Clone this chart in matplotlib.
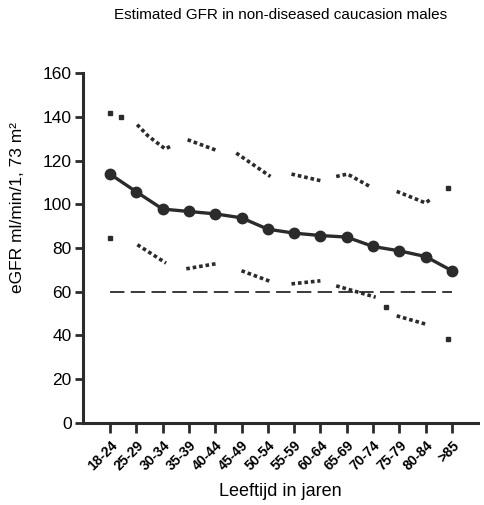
import numpy as np
import matplotlib
matplotlib.use("Agg")
import matplotlib.pyplot as plt

plt.rcParams['font.family'] = ['Liberation Sans', 'DejaVu Sans']

age_groups = ['18-24', '25-29', '30-34', '35-39', '40-44', '45-49', '50-54',
              '55-59', '60-64', '65-69', '70-74', '75-79', '80-84', '>85']
mean_gfr = [113.8, 105.7, 97.8, 96.7, 95.6, 93.8, 88.6,
            86.8, 85.7, 85.0, 80.7, 78.7, 76.1, 69.6]

# dotted percentile curves, nan = gap between pieces
upper_pos = [1.03, 1.45, 2.1, 2.3, np.nan, 2.95, 4.06, np.nan, 4.8, 6.1, np.nan,
             6.9, 8.0, np.nan, 8.6, 9.03, 9.9, np.nan, 10.9, 12.0, 12.2]
upper_val = [136.4, 131.2, 125.3, 126.5, np.nan, 129.5, 124.6, np.nan, 123.4, 112.7, np.nan,
             113.8, 110.8, np.nan, 112.7, 113.8, 108.0, np.nan, 105.9, 100.6, 102.4]
upper_single_pos = [0, 0.42, 12.84]
upper_single_val = [141.7, 139.7, 107.4]

lower_pos = [1.04, 2.13, np.nan, 2.9, 4.02, np.nan, 5.0, 6.1, np.nan,
             6.9, 8.0, np.nan, 8.6, 10.1, np.nan, 10.9, 12.0]
lower_val = [81.5, 73.1, np.nan, 70.5, 72.8, np.nan, 69.6, 64.7, np.nan,
             63.6, 65.0, np.nan, 62.7, 57.5, np.nan, 49.0, 45.2]
lower_single_pos = [0, 10.5, 12.84]
lower_single_val = [84.8, 53.2, 38.4]

threshold = 60
ink = '#2b2b2b'

fig = plt.figure(figsize=(4.85, 5.05), dpi=100)
ax = fig.add_axes([0.171, 0.1624, 0.815, 0.693])

x = np.arange(len(age_groups))
ax.hlines(threshold, 0, 13, colors=ink, linestyles=(0, (8, 3.5)), lw=1.3)

for px, py in [(upper_pos, upper_val), (lower_pos, lower_val)]:
    ax.plot(px, py, color=ink, lw=2.6, linestyle=(0, (1, 0.8)), dash_capstyle='butt')
ax.plot(upper_single_pos, upper_single_val, 's', color=ink, ms=3, lw=0)
ax.plot(lower_single_pos, lower_single_val, 's', color=ink, ms=3, lw=0)

ax.plot(x, mean_gfr, '-o', color=ink, lw=2.4, ms=7.5, zorder=5)

ax.set_xlim(-1.03, 14.0)
ax.set_ylim(0, 160)
ax.set_yticks(range(0, 161, 20))
ax.set_xticks(x)
ax.set_xticklabels(age_groups, rotation=45, ha='right', rotation_mode='anchor',
                   fontsize=10, fontweight='bold')
ax.tick_params(axis='y', labelsize=12.5, width=2, length=6, color=ink, pad=2)
ax.tick_params(axis='x', width=2, length=7, color=ink, pad=4)

for side in ['top', 'right']:
    ax.spines[side].set_visible(False)
for side in ['left', 'bottom']:
    ax.spines[side].set_linewidth(2.2)
    ax.spines[side].set_color(ink)

ax.set_ylabel('eGFR ml/min/1, 73 m²', fontsize=12.5)
ax.yaxis.set_label_coords(-0.147, 0.617)
ax.set_xlabel('Leeftijd in jaren', fontsize=13, labelpad=7)

fig.text(0.578, 0.97, 'Estimated GFR in non-diseased caucasion males',
         ha='center', va='center', fontsize=11)

fig.savefig('out.png', dpi=100)
